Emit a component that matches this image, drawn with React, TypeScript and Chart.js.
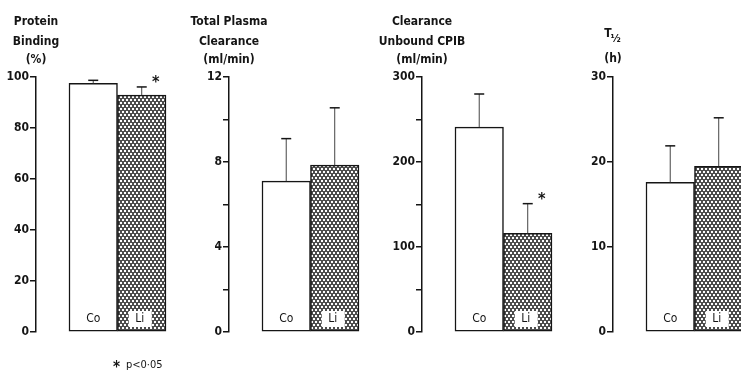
import React, { useEffect, useRef } from "react";
import { Chart, registerables } from "chart.js";

Chart.register(...registerables);

// ---------- data ----------
const groups = ["Co", "Li"];
const panelTitles = [
  ["Protein", "Binding", "(%)"],
  ["Total Plasma", "Clearance", "(ml/min)"],
  ["Clearance", "Unbound CPIB", "(ml/min)"],
  ["T½", "(h)"],
];
const coMeans = [97.5, 7.1, 241, 17.6];
const liMeans = [92.9, 7.85, 116, 19.5];
const coErrors = [1.2, 2.0, 39, 4.3];
const liErrors = [3.2, 2.7, 35, 5.7];
const yMaxima = [100, 12, 300, 30];
const yMinorSteps = [20, 2, 50, 10];
const yLabelSteps = [20, 4, 100, 10];
const liSignificant = [true, false, true, false];
const footnoteMark = "*";
const footnoteText = "p<0·05";

// ---------- layout ----------
const W = 741;
const H = 377;
const panelAxisX = [36, 229, 422, 613];
const AXIS_W = 60;
const CANVAS_W = 210;
const FONT = '"DejaVu Sans Condensed", "DejaVu Sans", sans-serif';
const INK = "#151515";

function makePattern(): CanvasPattern | string {
  const tile = document.createElement("canvas");
  tile.width = 4;
  tile.height = 6;
  const t = tile.getContext("2d");
  if (!t) return "#999";
  t.fillStyle = "#4d4d4d";
  t.fillRect(0, 0, 4, 6);
  t.fillStyle = "#ffffff";
  t.fillRect(0, 0, 2, 2);
  t.fillRect(2, 3, 2, 2);
  const ctx = document.createElement("canvas").getContext("2d");
  const p = ctx ? ctx.createPattern(tile, "repeat") : null;
  return p || "#999";
}

function Panel({ index }: { index: number }) {
  const ref = useRef<HTMLCanvasElement | null>(null);

  useEffect(() => {
    const canvas = ref.current;
    if (!canvas) return;
    const i = index;
    const means = [coMeans[i], liMeans[i]];
    const errs = [coErrors[i], liErrors[i]];
    const pattern = makePattern();

    const overlay = {
      id: "overlay" + i,
      afterDatasetsDraw(chart: any) {
        const ctx = chart.ctx as CanvasRenderingContext2D;
        const meta = chart.getDatasetMeta(0);
        const ys = chart.scales.y;
        const area = chart.chartArea;
        ctx.save();
        meta.data.forEach((el: any, k: number) => {
          const x = el.x;
          const top = ys.getPixelForValue(means[k]);
          const capY = ys.getPixelForValue(means[k] + errs[k]);
          ctx.strokeStyle = "#444";
          ctx.lineWidth = 1;
          ctx.beginPath();
          ctx.moveTo(x, top);
          ctx.lineTo(x, capY);
          ctx.stroke();
          ctx.strokeStyle = INK;
          ctx.lineWidth = 1.5;
          ctx.beginPath();
          ctx.moveTo(x - 5, capY);
          ctx.lineTo(x + 5, capY);
          ctx.stroke();

          const ly = area.bottom - 13;
          ctx.font = `12px ${FONT}`;
          ctx.textAlign = "center";
          ctx.textBaseline = "middle";
          if (k === 1) {
            ctx.fillStyle = "#ffffff";
            ctx.fillRect(x - 13, ly - 8, 23, 16);
          }
          ctx.fillStyle = INK;
          ctx.fillText(groups[k], x - (k === 1 ? 2 : 0), ly);

          if (k === 1 && liSignificant[i]) {
            ctx.font = `bold 16px ${FONT}`;
            ctx.fillText("*", x + 14, capY - 4);
          }
        });

        // titles, centred over the y axis
        const lines = panelTitles[i];
        const ypos = lines.length === 3 ? [22, 42, 60] : [37, 59];
        ctx.textBaseline = "middle";
        ctx.fillStyle = INK;
        lines.forEach((ln, j) => {
          if (ln.includes("½")) {
            const head = ln.replace("½", "");
            ctx.font = `bold 12px ${FONT}`;
            const hw = ctx.measureText(head).width;
            ctx.font = `bold 11px ${FONT}`;
            const sw = ctx.measureText("½").width;
            const x0 = area.left - (hw + sw) / 2;
            ctx.textAlign = "left";
            ctx.font = `bold 12px ${FONT}`;
            ctx.fillText(head, x0, ypos[j] - 3);
            ctx.font = `bold 11px ${FONT}`;
            ctx.fillText("½", x0 + hw - 1, ypos[j] + 2);
          } else {
            ctx.font = `bold 12px ${FONT}`;
            ctx.textAlign = "center";
            ctx.fillText(ln, area.left, ypos[j]);
          }
        });

        if (i === 0) {
          ctx.textAlign = "left";
          ctx.font = `bold 15px ${FONT}`;
          ctx.fillText(footnoteMark, area.left + 77, 368);
          ctx.font = `11px ${FONT}`;
          ctx.fillText(footnoteText, area.left + 90, 365);
        }
        ctx.restore();
      },
    };

    const chart = new Chart(canvas, {
      type: "bar",
      data: {
        datasets: [
          {
            data: groups.map((g, k) => ({ x: k + 1, y: means[k] })),
            backgroundColor: ["#ffffff", pattern as any],
            borderColor: INK,
            borderWidth: 1.5,
            borderSkipped: false,
            barPercentage: 1,
            categoryPercentage: 1,
          },
        ],
      },
      options: {
        responsive: false,
        animation: false,
        devicePixelRatio: 1,
        layout: { padding: { top: 77, bottom: 45, left: 0, right: 0 } },
        plugins: { legend: { display: false }, tooltip: { enabled: false }, title: { display: false } },
        scales: {
          x: {
            type: "linear",
            display: false,
            offset: false,
            min: -0.18,
            max: -0.18 + 150 / 48.5,
          },
          y: {
            min: 0,
            max: yMaxima[i],
            afterFit: (s: any) => {
              s.width = AXIS_W;
            },
            border: { display: true, color: INK, width: 1.5 },
            grid: {
              drawOnChartArea: false,
              drawTicks: true,
              tickLength: 6,
              color: INK,
              lineWidth: 1.5,
            },
            ticks: {
              stepSize: yMinorSteps[i],
              padding: 1,
              color: INK,
              font: { family: FONT, size: 12, weight: "bold" },
              callback: (v: any) => (Number(v) % yLabelSteps[i] === 0 ? String(v) : ""),
            },
          },
        },
      } as any,
      plugins: [overlay],
    });
    return () => chart.destroy();
  }, [index]);

  return (
    <canvas
      ref={ref}
      width={CANVAS_W}
      height={H}
      style={{ position: "absolute", left: panelAxisX[index] - AXIS_W, top: 0, width: CANVAS_W, height: H }}
    />
  );
}

export default function App() {
  return (
    <div
      style={{
        position: "fixed",
        left: 0,
        top: 0,
        width: W,
        height: H,
        overflow: "hidden",
        background: "#ffffff",
      }}
    >
      {panelTitles.map((_, i) => (
        <Panel key={i} index={i} />
      ))}
    </div>
  );
}
